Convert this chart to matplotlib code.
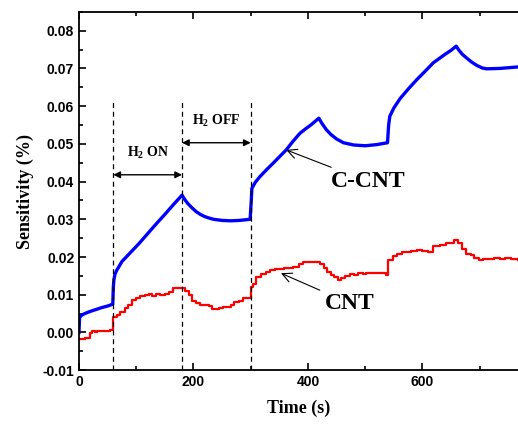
import numpy as np
import matplotlib.pyplot as plt
from matplotlib.ticker import MultipleLocator

plt.rcParams['mathtext.fontset'] = 'custom'
plt.rcParams['mathtext.rm'] = 'Liberation Serif:bold'

# C-CNT (blue)
t_ccnt = [0, 1, 5, 10, 20, 30, 40, 50, 59, 60, 61, 63, 66, 70, 75, 90, 105, 120, 135,
          150, 165, 180, 185, 190, 197, 205, 212, 220, 228, 235, 250, 265, 280, 299,
          301, 302, 308, 316, 328, 340, 351, 362, 374, 386, 396, 405, 412, 419,
          425, 432, 440, 450, 462, 480, 500, 520, 539, 541, 543, 550, 561, 575, 590,
          605, 619, 630, 640, 650, 659, 664, 670, 677, 685, 695, 705, 712, 735, 767]
s_ccnt = [0.0000, 0.0040, 0.0046, 0.0050, 0.0056, 0.0061, 0.0066, 0.0070, 0.0075, 0.0120,
          0.0140, 0.0155, 0.0165, 0.0175, 0.0188, 0.0212, 0.0236, 0.0262, 0.0288,
          0.0313, 0.0339, 0.0364, 0.0352, 0.0342, 0.0331, 0.0320, 0.0313, 0.0307, 0.0303,
          0.0300, 0.0297, 0.0296, 0.0297, 0.0300,
          0.0350, 0.0382, 0.0398, 0.0413, 0.0432, 0.0450, 0.0467, 0.0484, 0.0507, 0.0528,
          0.0540, 0.0550, 0.0559, 0.0568,
          0.0553, 0.0538, 0.0525, 0.0513, 0.0503, 0.0497, 0.0495, 0.0498, 0.0503, 0.0550,
          0.0573, 0.0595, 0.0620, 0.0645, 0.0670,
          0.0693, 0.0715, 0.0727, 0.0738, 0.0748, 0.0759, 0.0748, 0.0737, 0.0728, 0.0718,
          0.0708, 0.0701, 0.0699, 0.0700, 0.0704]

# CNT (red)
t_cnt = [0, 10, 16, 19, 22, 28, 32, 40, 48, 55, 60, 66, 72, 80, 86, 92, 100, 106, 115,
         122, 128, 135, 142, 150, 158, 165, 180, 186, 192, 198, 204, 211, 222, 228, 232,
         238, 245, 252, 260, 266, 270, 280, 287, 298, 300, 304, 310, 318, 326, 334, 342,
         351, 358, 366, 374, 385, 392, 405, 412, 421, 428, 434, 440, 446, 452, 458, 465,
         473, 480, 488, 496, 502, 515, 530, 536, 540, 548, 555, 565, 572, 580, 590, 600,
         610, 619, 630, 642, 650, 656, 662, 670, 677, 685, 690, 698, 705, 715, 725, 735,
         745, 755, 767]
s_cnt = [-0.0017, -0.0016, -0.0014, -0.0002, 0.0003, 0.0000, 0.0005, 0.0003, 0.0005, 0.0007,
         0.0041, 0.0045, 0.0055, 0.0064, 0.0072, 0.0085, 0.0090, 0.0096, 0.0099,
         0.0101, 0.0097, 0.0101, 0.0099, 0.0103, 0.0108, 0.0119, 0.0119, 0.0110, 0.0098,
         0.0083, 0.0077, 0.0074, 0.0074, 0.0070, 0.0063,
         0.0061, 0.0066, 0.0068, 0.0067, 0.0073, 0.0081, 0.0084, 0.0090, 0.0091, 0.0120,
         0.0128, 0.0147, 0.0155, 0.0161, 0.0165, 0.0167,
         0.0169, 0.0172, 0.0170, 0.0174, 0.0182, 0.0186, 0.0188, 0.0186, 0.0181, 0.0170,
         0.0160, 0.0152, 0.0147, 0.0138, 0.0145, 0.0150,
         0.0154, 0.0152, 0.0157, 0.0154, 0.0158, 0.0157, 0.0157, 0.0152, 0.0191, 0.0203,
         0.0209, 0.0212, 0.0214, 0.0216, 0.0218, 0.0215,
         0.0214, 0.0229, 0.0232, 0.0236, 0.0237, 0.0245, 0.0236, 0.0222, 0.0209, 0.0205,
         0.0198, 0.0193, 0.0196, 0.0195, 0.0198, 0.0195,
         0.0197, 0.0195, 0.0193]

switch_times = [60, 180, 300]

serif = 'Liberation Serif'
sans = 'Liberation Sans'

fig = plt.figure(figsize=(5.18, 4.24), dpi=100)
ax = fig.add_axes([0.1525, 0.127, 0.8475, 0.845])

ax.plot(t_ccnt, s_ccnt, color='#0000ff', lw=2.4)
ax.plot(t_cnt, s_cnt, color='#ff0000', lw=1.6, drawstyle='steps-post')

for t in switch_times:
    ax.plot([t, t], [-0.01, 0.062], color='black', lw=0.9, ls=(0, (4, 3)))

ax.annotate('', xy=(switch_times[0], 0.0418), xytext=(switch_times[1], 0.0418),
            arrowprops=dict(arrowstyle='<|-|>', color='black', lw=1.0,
                            shrinkA=0, shrinkB=0, mutation_scale=10))
ax.annotate('', xy=(switch_times[1], 0.0503), xytext=(switch_times[2], 0.0503),
            arrowprops=dict(arrowstyle='<|-|>', color='black', lw=1.0,
                            shrinkA=0, shrinkB=0, mutation_scale=10))
ax.text(120, 0.0455, 'H$_2$ ON', ha='center', va='bottom', fontsize=10,
        fontweight='bold', family=serif)
ax.text(240, 0.0540, 'H$_2$ OFF', ha='center', va='bottom', fontsize=10,
        fontweight='bold', family=serif)

ax.annotate('C-CNT', xy=(362, 0.0484), xytext=(440, 0.0400),
            ha='left', va='center', fontsize=17, fontweight='bold', family=serif,
            arrowprops=dict(arrowstyle='->', color='black', lw=0.8,
                            shrinkA=2, shrinkB=0))
ax.annotate('CNT', xy=(353, 0.0157), xytext=(430, 0.0077),
            ha='left', va='center', fontsize=17, fontweight='bold', family=serif,
            arrowprops=dict(arrowstyle='->', color='black', lw=0.8,
                            shrinkA=2, shrinkB=0))

ax.set_xlim(0, 767)
ax.set_ylim(-0.01, 0.085)
ax.xaxis.set_major_locator(MultipleLocator(200))
ax.xaxis.set_minor_locator(MultipleLocator(100))
ax.yaxis.set_minor_locator(MultipleLocator(0.005))
ax.set_yticks(np.arange(-0.01, 0.081, 0.01))
ax.set_yticklabels(['%.2f' % v for v in np.arange(-0.01, 0.081, 0.01)])
ax.tick_params(which='both', direction='in', top=True, right=False, width=1.2)
ax.tick_params(which='major', length=5)
ax.tick_params(which='minor', length=3)
for lab in ax.get_xticklabels() + ax.get_yticklabels():
    lab.set_fontfamily(sans)
    lab.set_fontweight('bold')
    lab.set_fontsize(10)
ax.spines['right'].set_visible(False)
for sp in ['left', 'bottom', 'top']:
    ax.spines[sp].set_linewidth(1.3)

ax.set_xlabel('Time (s)', fontsize=13, fontweight='bold', family=serif, labelpad=8)
ax.set_ylabel('Sensitivity (%)', fontsize=13, fontweight='bold', family=serif, labelpad=6)

fig.savefig('out.png', dpi=100)
